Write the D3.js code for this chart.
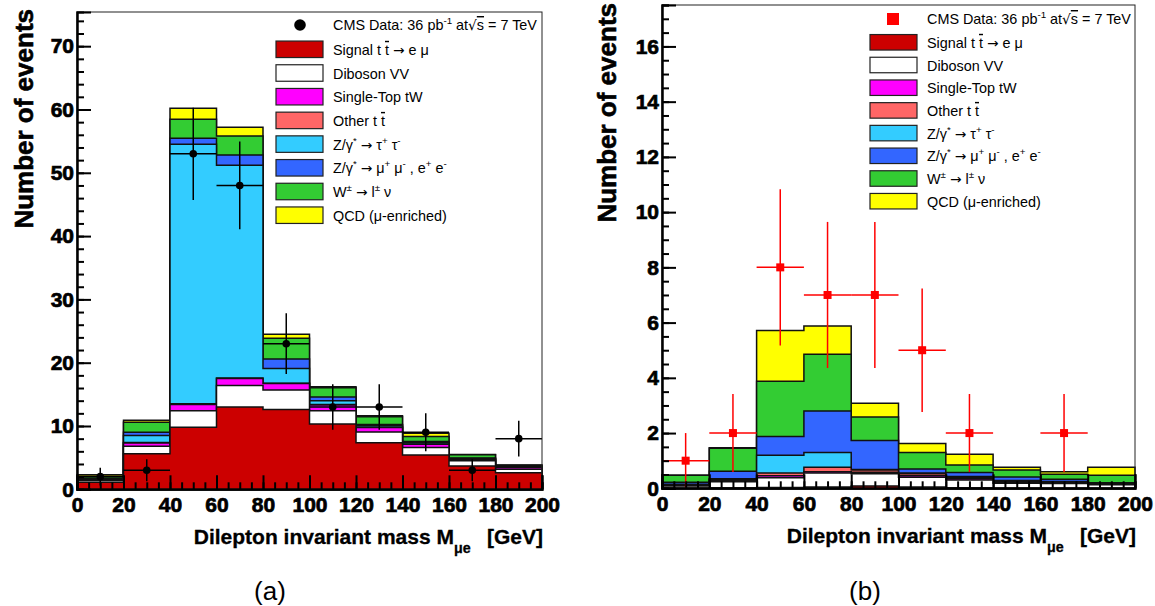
<!DOCTYPE html>
<html>
<head>
<meta charset="utf-8">
<script src="https://cdn.jsdelivr.net/npm/d3@7"></script>
<style>
  body { margin: 0; background: #fff; }
  svg { display: block; }
  text { font-family: "Liberation Sans", Arial, Helvetica, sans-serif; }
</style>
</head>
<body>
<svg id="fig" width="1155" height="606"></svg>
<script>
// Dilepton (mu-e) invariant mass, 20 GeV bins from 0 to 200 GeV
const binLow = [0, 20, 40, 60, 80, 100, 120, 140, 160, 180];
const binWidth = 20;
const xTicks = [0, 20, 40, 60, 80, 100, 120, 140, 160, 180, 200];

// Processes, stacked bottom-to-top and listed top-to-bottom in the legend
const processNames = ["signal", "diboson", "singleTop", "otherTt", "zTauTau", "zLL", "wJets", "qcd"];
const processColors = ["#cc0000", "#ffffff", "#ff00ff", "#ff6666", "#33ccff", "#3366ff", "#33cc33", "#ffff00"];

// Panel (a): expected events per bin
const signalA    = [1.1, 5.6, 9.8, 13.0, 12.6, 10.3, 7.35, 5.4, 3.7, 2.6];
const dibosonA   = [0.3, 1.2, 2.6, 3.4, 3.1, 2.1, 1.7, 1.2, 0.8, 0.55];
const singleTopA = [0.1, 0.5, 1.0, 1.1, 1.0, 0.9, 0.7, 0.5, 0.2, 0.3];
const otherTtA   = [0.05, 0.1, 0.1, 0.1, 0.05, 0.1, 0.1, 0.05, 0.05, 0.05];
const zTauTauA   = [0.1, 1.1, 41.0, 33.6, 2.35, 0.6, 0.25, 0.25, 0.1, 0.1];
const zLLA       = [0.1, 0.5, 0.95, 1.6, 1.5, 0.6, 0.15, 0.15, 0.1, 0.05];
const wJetsA     = [0.3, 1.6, 3.0, 3.0, 3.25, 1.45, 1.2, 0.8, 0.5, 0.15];
const qcdA       = [0.25, 0.3, 1.75, 1.4, 0.65, 0.15, 0.15, 0.5, 0.05, 0.05];
const dataA      = [2, 3, 53, 48, 23, 13, 13, 9, 3, 8];

// Panel (b): expected events per bin
const signalB    = [0.01, 0.02, 0.03, 0.05, 0.08, 0.05, 0.02, 0.01, 0.01, 0.01];
const dibosonB   = [0.07, 0.22, 0.35, 0.5, 0.45, 0.35, 0.28, 0.17, 0.16, 0.12];
const singleTopB = [0.02, 0.05, 0.07, 0.05, 0.05, 0.05, 0.05, 0.04, 0.03, 0.03];
const otherTtB   = [0.02, 0.03, 0.1, 0.16, 0.08, 0.08, 0.05, 0.03, 0.02, 0.02];
const zTauTauB   = [0.03, 0.03, 0.65, 0.54, 0.02, 0.02, 0.03, 0.03, 0.03, 0.01];
const zLLB       = [0.07, 0.27, 0.68, 1.5, 1.05, 0.15, 0.14, 0.13, 0.08, 0.01];
const wJetsB     = [0.25, 0.83, 2.0, 2.05, 0.85, 0.6, 0.27, 0.25, 0.18, 0.27];
const qcdB       = [0.0, 0.02, 1.83, 1.03, 0.5, 0.32, 0.39, 0.1, 0.09, 0.29];
const dataB      = [1, 2, 8, 7, 7, 5, 2, 0, 2, 0];

// Legend entries as rich-text segments: [text, kind]
const legendData = [["CMS Data: 36 pb"], ["-1", "sup"], [" at"], ["\u221A", "sym"], ["s", "ov"], [" = 7 TeV"]];
const legendLabels = [
  [["Signal t "], ["t", "ov"], [" "], ["\u2192", "sym"], [" e \u03BC"]],
  [["Diboson VV"]],
  [["Single-Top tW"]],
  [["Other t "], ["t", "ov"]],
  [["Z/\u03B3"], ["*", "sup"], [" "], ["\u2192", "sym"], [" \u03C4"], ["+", "sup"], [" \u03C4"], ["-", "sup"]],
  [["Z/\u03B3"], ["*", "sup"], [" "], ["\u2192", "sym"], [" \u03BC"], ["+", "sup"], [" \u03BC"], ["-", "sup"], [" , e"], ["+", "sup"], [" e"], ["-", "sup"]],
  [["W"], ["\u00B1", "sup"], [" "], ["\u2192", "sym"], [" l"], ["\u00B1", "sup"], [" \u03BD"]],
  [["QCD (\u03BC-enriched)"]]
];

const svg = d3.select("#fig");

function rich(textSel, segs, fs) {
  let cur = 0;
  segs.forEach(([str, kind]) => {
    const target = kind === "sup" ? -fs * 0.42 : kind === "sub" ? fs * 0.42 : 0;
    const ts = textSel.append("tspan").text(str).attr("dy", target - cur);
    cur = target;
    if (kind === "sup" || kind === "sub") ts.attr("font-size", fs * 0.68);
    if (kind === "ov") ts.style("text-decoration", "overline");
    if (kind === "sym") ts.attr("font-family", "'DejaVu Sans', sans-serif").attr("font-size", fs * 0.95);
  });
}

function drawPanel(p) {
  const x = d3.scaleLinear().domain([0, 200]).range([p.x0, p.x1]);
  const y = d3.scaleLinear().domain([0, p.yMax]).range([p.y1, p.y0]);
  const g = svg.append("g");

  // cumulative sums for the stack
  let run = binLow.map(() => 0);
  const cums = p.series.map(s => { run = run.map((c, i) => c + s[i]); return run.slice(); });

  const area = d3.area()
    .x(d => x(d.x))
    .y0(y(0))
    .y1(d => y(d.v))
    .curve(d3.curveStepAfter);

  // draw the largest cumulative histogram first, then each smaller one on top
  for (let k = cums.length - 1; k >= 0; k--) {
    const pts = binLow.map((b, i) => ({ x: b, v: cums[k][i] }));
    pts.push({ x: 200, v: cums[k][cums[k].length - 1] });
    g.append("path")
      .attr("d", area(pts))
      .attr("fill", processColors[k])
      .attr("stroke", "#111")
      .attr("stroke-width", 1.5);
  }

  // data with Poisson errors and bin-width horizontal bars
  const pts = binLow.map((b, i) => ({ c: b + binWidth / 2, lo: b, n: p.data[i] })).filter(d => d.n > 0);
  const dg = g.append("g");
  dg.selectAll("line.h").data(pts).join("line")
    .attr("x1", d => x(d.lo)).attr("x2", d => x(d.lo + binWidth))
    .attr("y1", d => y(d.n)).attr("y2", d => y(d.n))
    .attr("stroke", p.dataColor).attr("stroke-width", 1.5);
  dg.selectAll("line.v").data(pts).join("line")
    .attr("x1", d => x(d.c)).attr("x2", d => x(d.c))
    .attr("y1", d => y(d.n + Math.sqrt(d.n))).attr("y2", d => y(Math.max(0, d.n - Math.sqrt(d.n))))
    .attr("stroke", p.dataColor).attr("stroke-width", 1.5);
  if (p.marker === "circle") {
    dg.selectAll("circle").data(pts).join("circle")
      .attr("cx", d => x(d.c)).attr("cy", d => y(d.n)).attr("r", 3.8)
      .attr("fill", p.dataColor);
  } else {
    dg.selectAll("rect").data(pts).join("rect")
      .attr("x", d => x(d.c) - 4).attr("y", d => y(d.n) - 4)
      .attr("width", 8).attr("height", 8)
      .attr("fill", p.dataColor);
  }

  // frame
  g.append("rect").attr("x", p.x0).attr("y", p.y0)
    .attr("width", p.x1 - p.x0).attr("height", p.y1 - p.y0)
    .attr("fill", "none").attr("stroke", "#222").attr("stroke-width", 1);

  // ticks pointing into the frame
  const yMajor = d3.range(0, p.yMax + 1e-9, p.yStep);
  const yMinor = d3.range(0, p.yMax + 1e-9, p.yMinorStep);
  const xMinor = d3.range(0, 200.001, 5);

  const yAxisMinor = d3.axisLeft(y).tickValues(yMinor).tickSize(-7).tickFormat("");
  const yAxisMajor = d3.axisLeft(y).tickValues(yMajor).tickSize(-14).tickPadding(3).tickFormat(d3.format("d"));
  const xAxisMinor = d3.axisBottom(x).tickValues(xMinor).tickSize(-7).tickFormat("");
  const xAxisMajor = d3.axisBottom(x).tickValues(xTicks).tickSize(-14).tickPadding(8).tickFormat(d3.format("d"));

  [yAxisMinor, yAxisMajor].forEach(ax => g.append("g").attr("transform", `translate(${p.x0},0)`).call(ax));
  [xAxisMinor, xAxisMajor].forEach(ax => g.append("g").attr("transform", `translate(0,${p.y1})`).call(ax));
  g.selectAll(".domain").attr("stroke", "#000").attr("stroke-width", 2);
  g.selectAll(".tick line").attr("stroke", "#000").attr("stroke-width", 2);
  g.selectAll(".tick text")
    .attr("font-family", "'Liberation Sans', Arial, sans-serif")
    .attr("font-weight", "bold").attr("font-size", 21)
    .attr("fill", "#000").attr("stroke", "#000").attr("stroke-width", 0.7);

  // axis titles
  g.append("text")
    .attr("transform", `translate(${p.yTitleX},${p.yTitleEnd}) rotate(-90)`)
    .attr("text-anchor", "end")
    .attr("font-weight", "bold").attr("font-size", 26)
    .attr("stroke", "#000").attr("stroke-width", 0.6)
    .text("Number of events");

  const xfs = 21;
  const xt = g.append("text")
    .attr("x", p.x1 + 1).attr("y", p.y1 + 55)
    .attr("text-anchor", "end")
    .attr("font-weight", "bold").attr("font-size", xfs)
    .attr("stroke", "#000").attr("stroke-width", 0.3);
  rich(xt, [["Dilepton invariant mass M"], ["\u03BCe", "sub"], ["\u2002 [GeV]"]], xfs);

  // legend
  const lg = g.append("g");
  const fs = 14.4;
  if (p.marker === "circle") {
    lg.append("circle").attr("cx", p.legMarkX).attr("cy", p.legDataY).attr("r", 5.8).attr("fill", p.dataColor);
  } else {
    lg.append("rect").attr("x", p.legMarkX - 6).attr("y", p.legDataY - 6).attr("width", 12).attr("height", 12).attr("fill", p.dataColor);
  }
  rich(lg.append("text").attr("x", p.legTextX).attr("y", p.legDataY + 5).attr("font-size", fs), legendData, fs);
  legendLabels.forEach((segs, i) => {
    const cy = p.legRow0 + i * p.legRowStep;
    lg.append("rect")
      .attr("x", p.legBoxX).attr("y", cy - p.legBoxH / 2)
      .attr("width", 47).attr("height", p.legBoxH)
      .attr("fill", processColors[i]).attr("stroke", "#222").attr("stroke-width", 1.2);
    rich(lg.append("text").attr("x", p.legTextX).attr("y", cy + 5.5).attr("font-size", fs), segs, fs);
  });

  // caption
  svg.append("text")
    .attr("x", p.captionX).attr("y", 600)
    .attr("text-anchor", "middle")
    .attr("font-family", "'Liberation Serif', 'DejaVu Serif', serif")
    .attr("font-size", 26)
    .text(p.caption);
}

drawPanel({
  x0: 77, x1: 542, y0: 12, y1: 489.3, yMax: 75.4, yStep: 10, yMinorStep: 2,
  series: [signalA, dibosonA, singleTopA, otherTtA, zTauTauA, zLLA, wJetsA, qcdA],
  data: dataA, marker: "circle", dataColor: "#000",
  yTitleX: 33, yTitleEnd: 9,
  legMarkX: 300, legDataY: 25, legBoxX: 276, legTextX: 333, legRow0: 49.3, legRowStep: 23.7, legBoxH: 16.5,
  captionX: 270, caption: "(a)"
});

drawPanel({
  x0: 662, x1: 1135, y0: 5, y1: 488.3, yMax: 17.5, yStep: 2, yMinorStep: 0.5,
  series: [signalB, dibosonB, singleTopB, otherTtB, zTauTauB, zLLB, wJetsB, qcdB],
  data: dataB, marker: "square", dataColor: "#ff0000",
  yTitleX: 616, yTitleEnd: 3,
  legMarkX: 893, legDataY: 19, legBoxX: 870, legTextX: 927, legRow0: 42.3, legRowStep: 22.7, legBoxH: 15.5,
  captionX: 865, caption: "(b)"
});
</script>
</body>
</html>
